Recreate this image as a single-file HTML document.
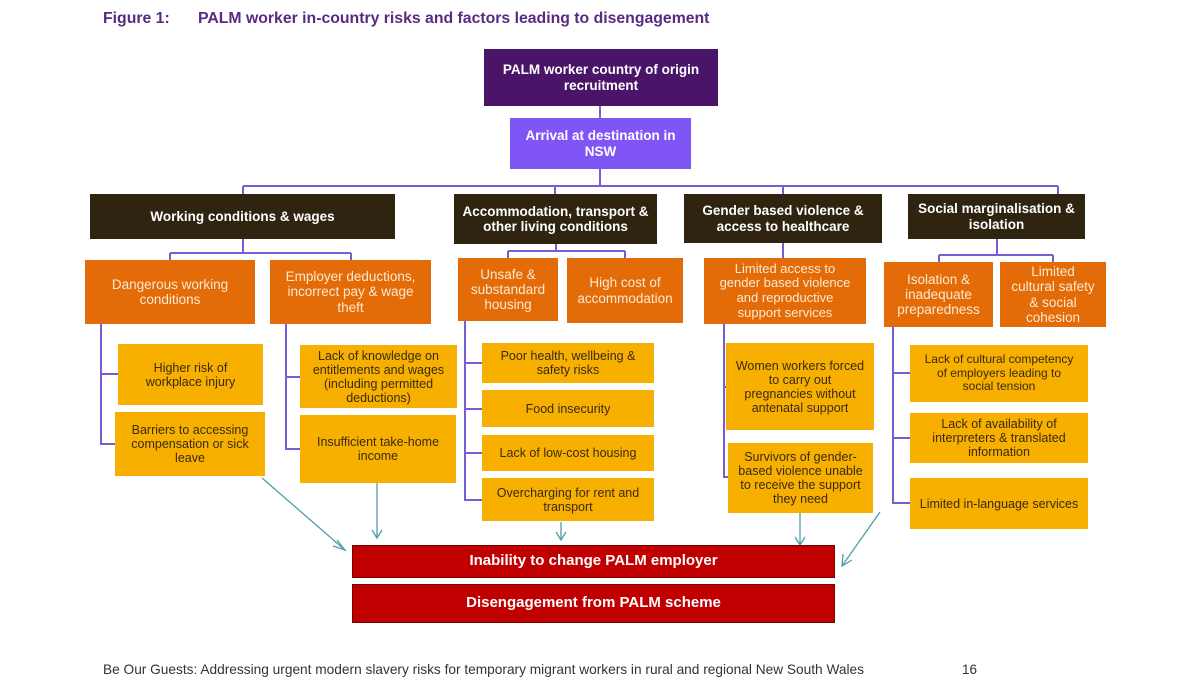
<!DOCTYPE html>
<html><head><meta charset="utf-8"><style>
body{margin:0;width:1200px;height:692px;background:#fff;position:relative;overflow:hidden;font-family:"Liberation Sans",sans-serif}
.b{position:absolute;display:flex;align-items:center;justify-content:center;text-align:center;box-sizing:border-box;line-height:1.12}
.p{background:#4a1468;color:#fff;font-weight:bold;font-size:13.5px}
.v{background:#7f56f5;color:#fff;font-weight:bold;font-size:13.5px}
.d{background:#2e2410;color:#fff;font-weight:bold;font-size:13.5px}
.o{background:#e36c09;color:#fde8d0;font-size:13.5px}
.y{background:#f7b000;color:#3a2a10;font-size:12.5px}
.r{background:#c00000;color:#fff;font-weight:bold;font-size:15px;border:1px solid #7a0000}
.t{position:absolute;color:#5a2a82;font-weight:bold;font-size:15.8px;top:10px}
</style></head><body>
<div class="t" style="left:103px">Figure 1:</div>
<div class="t" style="left:198px">PALM worker in-country risks and factors leading to disengagement</div>
<svg width="1200" height="692" style="position:absolute;left:0;top:0">
<g stroke="#7b5cd6" stroke-width="2" fill="none">
<path d="M600 106V118M600 169V186M243 186H1058M243 186V194M555 186V194M783 186V194M1058 186V194"/>
<path d="M243 239V253M170 253H351M170 253V260M351 253V260"/>
<path d="M556 244V251M508 251H625M508 251V258M625 251V258"/>
<path d="M783 243V258"/>
<path d="M997 239V255M939 255H1053M939 255V262M1053 255V262"/>
<path d="M101 324V444H115M101 374H118"/>
<path d="M286 324V449H300M286 377H300"/>
<path d="M465 321V500H482M465 363H482M465 409H482M465 453H482"/>
<path d="M724 324V477H728M724 387H726"/>
<path d="M893 327V503H910M893 373H910M893 438H910"/>
</g>
<g stroke="#4f9ea8" stroke-width="1.3" fill="none">
<path d="M262 478L345 550M337 540L345 550L333 546"/>
<path d="M377 483V538M372 530L377 538L382 530"/>
<path d="M561 522V540M556 532L561 540L566 532"/>
<path d="M800 505V545M795 537L800 545L805 537"/>
<path d="M880 512L842 566M843 554L842 566L852 560"/>
</g>
</svg>
<div class="b p" style="left:484px;top:49px;width:234px;height:57px">PALM worker country of origin<br>recruitment</div>
<div class="b v" style="left:510px;top:118px;width:181px;height:51px">Arrival at destination in<br>NSW</div>
<div class="b d" style="left:90px;top:194px;width:305px;height:45px">Working conditions &amp; wages</div>
<div class="b d" style="left:454px;top:194px;width:203px;height:50px">Accommodation, transport &amp;<br>other living conditions</div>
<div class="b d" style="left:684px;top:194px;width:198px;height:49px">Gender based violence &amp;<br>access to healthcare</div>
<div class="b d" style="left:908px;top:194px;width:177px;height:45px">Social marginalisation &amp;<br>isolation</div>
<div class="b o" style="left:85px;top:260px;width:170px;height:64px">Dangerous working<br>conditions</div>
<div class="b o" style="left:270px;top:260px;width:161px;height:64px">Employer deductions,<br>incorrect pay &amp; wage<br>theft</div>
<div class="b o" style="left:458px;top:258px;width:100px;height:63px">Unsafe &amp;<br>substandard<br>housing</div>
<div class="b o" style="left:567px;top:258px;width:116px;height:65px">High cost of<br>accommodation</div>
<div class="b o" style="left:704px;top:258px;width:162px;height:66px;font-size:13px">Limited access to<br>gender based violence<br>and reproductive<br>support services</div>
<div class="b o" style="left:884px;top:262px;width:109px;height:65px">Isolation &amp;<br>inadequate<br>preparedness</div>
<div class="b o" style="left:1000px;top:262px;width:106px;height:65px">Limited<br>cultural safety<br>&amp; social<br>cohesion</div>
<div class="b y" style="left:118px;top:344px;width:145px;height:61px">Higher risk of<br>workplace injury</div>
<div class="b y" style="left:115px;top:412px;width:150px;height:64px">Barriers to accessing<br>compensation or sick<br>leave</div>
<div class="b y" style="left:300px;top:345px;width:157px;height:63px">Lack of knowledge on<br>entitlements and wages<br>(including permitted<br>deductions)</div>
<div class="b y" style="left:300px;top:415px;width:156px;height:68px">Insufficient take-home<br>income</div>
<div class="b y" style="left:482px;top:343px;width:172px;height:40px">Poor health, wellbeing &amp;<br>safety risks</div>
<div class="b y" style="left:482px;top:390px;width:172px;height:37px">Food insecurity</div>
<div class="b y" style="left:482px;top:435px;width:172px;height:36px">Lack of low-cost housing</div>
<div class="b y" style="left:482px;top:478px;width:172px;height:43px">Overcharging for rent and<br>transport</div>
<div class="b y" style="left:726px;top:343px;width:148px;height:87px">Women workers forced<br>to carry out<br>pregnancies without<br>antenatal support</div>
<div class="b y" style="left:728px;top:443px;width:145px;height:70px">Survivors of gender-<br>based violence unable<br>to receive the support<br>they need</div>
<div class="b y" style="left:910px;top:345px;width:178px;height:57px;font-size:12px">Lack of cultural competency<br>of employers leading to<br>social tension</div>
<div class="b y" style="left:910px;top:413px;width:178px;height:50px">Lack of availability of<br>interpreters &amp; translated<br>information</div>
<div class="b y" style="left:910px;top:478px;width:178px;height:51px">Limited in-language services</div>
<div class="b r" style="left:352px;top:545px;width:483px;height:33px">Inability to change PALM employer</div>
<div class="b r" style="left:352px;top:584px;width:483px;height:39px">Disengagement from PALM scheme</div>
<div style="position:absolute;left:103px;top:662px;font-size:13.7px;color:#333">Be Our Guests: Addressing urgent modern slavery risks for temporary migrant workers in rural and regional New South Wales</div>
<div style="position:absolute;left:962px;top:662px;font-size:13.5px;color:#333">16</div>
</body></html>
